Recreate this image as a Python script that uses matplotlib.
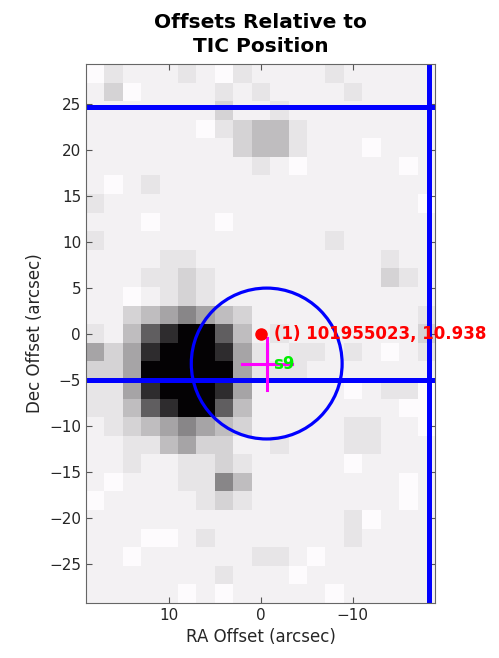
import numpy
from matplotlib import pyplot
from matplotlib.colors import ListedColormap
from matplotlib.patches import Circle

# background image, one digit per cell (0 = white .. 9 = black), rows top to bottom
image_rows = [
  "0211121021111211111",
  "1301111212111121111",
  "1111111311211111111",
  "1111110234421111111",
  "1111111134421110111",
  "1111111112101111101",
  "1012111111111111111",
  "2111111111111111110",
  "1110111011111111111",
  "2111111111111211111",
  "1111221111111111211",
  "1112232111111111321",
  "1101232111111111111",
  "1134565431111111112",
  "2147899741211111113",
  "5358999852122121012",
  "3359999952221111111",
  "2258999851111101220",
  "2247899741111111100",
  "1234565431111122110",
  "1122453311211122111",
  "1121122321111101111",
  "1011122641111111101",
  "0111112321111111101",
  "1111111111111120111",
  "1110012111111121111",
  "1101111112210111111",
  "1111111211101111111",
  "1111101011111011111",
]
gray_levels = [252, 242, 230, 212, 190, 165, 135, 95, 45, 3]
image_extent = [19, -19, -29.26, 29.26]

grid_x = [-18.3]
grid_y = [24.6, -5.1]

circle_center = (-0.65, -3.26)
circle_radius = 8.2
centroid = (-0.7, -3.3)
centroid_err = (2.7, 2.8)

tic_ra, tic_dec = 0.0, 0.0
tic_label = "(1) 101955023, 10.938"
sector_label = "s9"
label_dx = -1.4

img = numpy.array([[int(c) for c in row] for row in image_rows])
cols = [((g + 1) / 255, (g - 1) / 255 if g > 0 else 0, (g + 1) / 255) for g in gray_levels]
cols = [tuple(min(1.0, max(0.0, v)) for v in c) for c in cols]
cmap = ListedColormap(cols)

fig = pyplot.figure(figsize=(4.99, 6.58), dpi=100)
ax = fig.add_axes([0.1723, 0.0840, 0.7004, 0.8182])
ax.imshow(img, cmap=cmap, vmin=-0.5, vmax=9.5, extent=image_extent,
          interpolation='nearest', aspect='auto', origin='upper')

for x in grid_x:
  ax.axvline(x, color='#0000FF', lw=3.6)
for y in grid_y:
  ax.axhline(y, color='#0000FF', lw=3.6)

ax.add_patch(Circle(circle_center, circle_radius, fill=False, ec='#0000FF', lw=2.3))
ax.plot([centroid[0] - centroid_err[0], centroid[0] + centroid_err[0]],
        [centroid[1], centroid[1]], color='#FF00FF', lw=2.2)
ax.plot([centroid[0], centroid[0]],
        [centroid[1] - centroid_err[1], centroid[1] + centroid_err[1]], color='#FF00FF', lw=2.2)
ax.plot([tic_ra], [tic_dec], 'o', color='#FF0000', ms=8)

ax.text(tic_ra + label_dx, tic_dec, tic_label, color='#FF0000', fontsize=12,
        fontweight='bold', ha='left', va='center')
ax.text(centroid[0] + label_dx + 0.7, centroid[1], sector_label, color='#00EE00',
        fontsize=12, fontweight='bold', ha='left', va='center')

ax.set_xlim(19, -19)
ax.set_ylim(-29.26, 29.26)
ax.set_xticks([10, 0, -10])
ax.set_yticks(numpy.arange(-25, 26, 5))
ax.tick_params(direction='in', top=True, right=True, length=4, width=0.8,
               colors='#555555', labelcolor='#262626', labelsize=11)
for s in ax.spines.values():
  s.set_color('#666666')
  s.set_linewidth(0.8)

ax.set_xlabel('RA Offset (arcsec)', fontsize=12, color='#262626')
ax.set_ylabel('Dec Offset (arcsec)', fontsize=12, color='#262626')
ax.set_title('Offsets Relative to\nTIC Position', fontsize=14.5, fontweight='bold',
             pad=9, linespacing=1.35)

fig.savefig('out.png', dpi=100)
